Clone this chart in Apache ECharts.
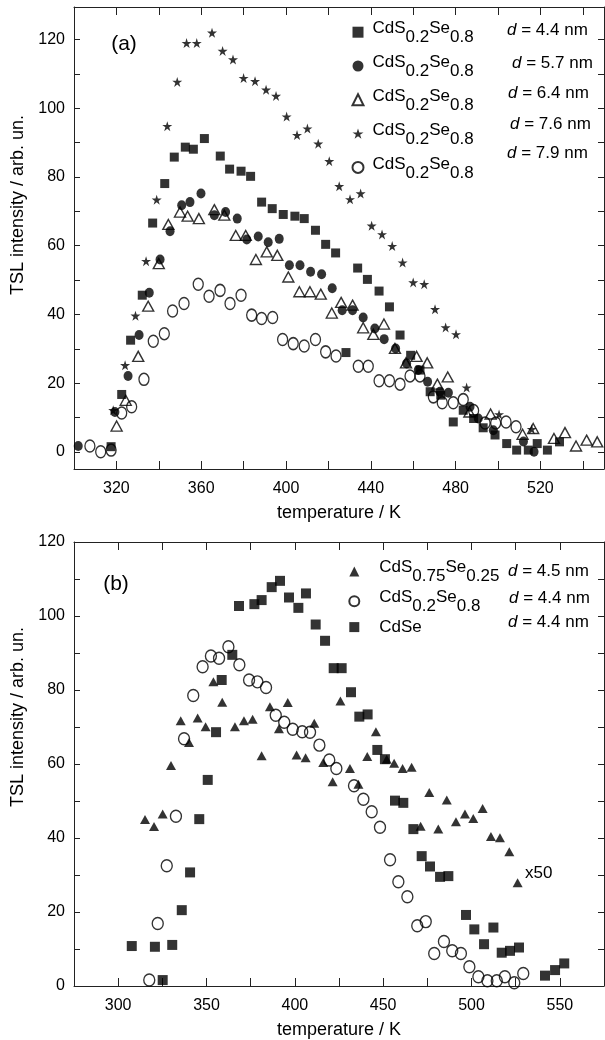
<!DOCTYPE html>
<html><head><meta charset="utf-8">
<script src="https://cdn.jsdelivr.net/npm/echarts@6/dist/echarts.min.js"></script>
<style>html,body{margin:0;padding:0;background:#fff}#c{width:605px;height:1040px}</style>
</head><body><div id="c"></div>
<script>
// ---------- panel (a) data : [temperature K, TSL intensity] ----------
const a44 = [[317.5,1.5],[322.5,16.7],[326.7,32.5],[332.2,45.6],[337.1,66.6],[342.8,78.1],[347.3,85.8],[352.5,88.7],[356.3,88.1],[361.5,91.2],[369,86.1],[373.4,82.3],[378.8,81.7],[383.3,80.2],[388.5,72.7],[393.5,70.8],[398.7,69.1],[404.2,68.6],[408.6,67.9],[413.9,64.5],[418.7,60.4],[423.4,57.9],[428.3,28.9],[433.8,53.5],[438.4,50.2],[443.9,46.8],[448.8,42.2],[453.8,34],[458.8,28.1],[463.2,23.8],[468,17.5],[473,16.5],[478.9,8.7],[483.6,12.1],[488.5,9.7],[493,7],[498.6,4.9],[504.1,2.4],[508.8,0.5],[514.3,0.5],[518.5,2.4],[523.3,0.5],[529,2.9]];
const a57 = [[302,1.7],[319.3,11.6],[325.5,22.1],[330.7,34],[335.5,46.3],[340.6,56],[345.3,64.2],[350.8,71.8],[354.7,72.7],[359.9,75.2],[366.2,68.9],[371.5,69.8],[377,67.9],[381.5,61.8],[386.9,62.7],[391.6,61],[396.8,62],[401.6,54.3],[406.6,54.3],[411.6,52.4],[416.8,51.7],[421.8,47.6],[426.5,41.2],[431.4,41.2],[436.4,39.1],[441.9,35.9],[446.3,32.8],[451.7,30.1],[456.9,25.7],[462.4,23.8],[466.8,20.4],[472.6,17.5],[476.6,17.2],[486.8,13.1],[490.7,9.7],[497.8,6.3],[512,3],[517,0]];
const a64 = [[320.1,7.5],[324.4,15],[330.3,27.8],[335,42.4],[340,54.8],[344.5,66.2],[350,69.8],[353.6,68.6],[358.9,67.9],[366.2,70.5],[370.9,68.9],[376.3,63],[381,63],[385.8,56],[390.9,58.2],[395.9,57.2],[401.1,50.9],[406.3,46.6],[411.3,46.6],[416.4,45.9],[421.6,40.4],[426,43.5],[431.4,42.7],[436.4,36.1],[441.2,34.2],[446.2,37.2],[451.4,30.1],[456.6,25.9],[461.6,27.8],[466.6,25.9],[471.4,19.7],[476.3,21.8],[486.5,11.6],[496.5,11],[511.6,5.1],[516.6,6.8],[526.4,3.9],[531.6,5.6],[536.8,1.7],[541.8,3.4],[546.8,2.9]];
const a76 = [[318.5,12.1],[324.1,25.2],[329,39.6],[334,55.5],[339,73.4],[344,94.8],[348.7,107.7],[353.1,119],[357.9,119],[365.1,122],[370.1,116.7],[375,114.2],[380,108.8],[385.4,107.9],[390.6,105.4],[395.3,103.6],[400.3,97.6],[405.2,92.2],[410.1,94.1],[415.2,89.7],[420.4,84.6],[425.1,77.3],[430.2,73.5],[435.2,75.2],[440.4,65.8],[445.3,63.3],[450.1,59.9],[455,55.1],[460,49.3],[465.2,48.8],[470.3,41.5],[475.3,36.2],[480.2,34.2],[485.2,18.7],[500.5,10.9],[515.9,6.6]];
const a79 = [[307.5,1.7],[312.6,0],[317.5,0.5],[322.5,11.3],[327.2,13.1],[333,21.1],[337.4,32.2],[342.6,34.4],[346.5,41],[351.9,43.2],[358.6,48.8],[363.7,45.3],[368.9,47],[373.6,43.2],[378.8,45.6],[383.8,39.8],[388.5,38.8],[393.7,39.1],[398.4,32.7],[403.4,31.5],[408.6,30.8],[413.9,32.7],[418.7,29.1],[423.6,27.9],[434.1,24.9],[438.8,24.9],[443.9,20.7],[448.8,20.7],[453.8,19.7],[458.5,22.1],[463.2,22.1],[469.5,16],[473.7,14.3],[478.9,14.3],[483.6,15.2],[488.5,12],[493.9,8.4],[498.9,8.4],[503.8,8.7],[508.5,7.3]];

// ---------- panel (b) data ----------
const b075 = [[315.2,45],[320.3,43.1],[325.2,46.5],[329.9,59.6],[335.4,71.7],[340.1,65.8],[345,72.4],[349.5,70.1],[353.9,82.2],[358.9,76.7],[366.1,70.1],[371.2,71.7],[376.1,72.1],[381.2,62.2],[385.9,75.5],[391,69.5],[396,76.6],[401,62.4],[406.1,61.7],[411,71],[416.1,60.4],[421.4,55.2],[425.8,77],[431.2,58.8],[436,54.5],[441,62],[445.9,68.7],[452,61.3],[456.2,60.2],[461,58.8],[466.1,59.1],[471.2,43.2],[476.1,52.3],[481.2,42.4],[486,50.3],[491.2,44.4],[496.3,46.5],[501,45.3],[506.3,48],[511,40.4],[516.1,40.1],[521.4,36.3],[526.1,27.9]];
const b02 = [[317.6,1.6],[322.4,16.9],[327.5,32.5],[332.7,45.9],[337.3,66.8],[342.5,78.5],[347.8,86.3],[352.5,89.2],[357.1,88.6],[362.4,91.7],[368.6,86.8],[374.1,82.7],[378.8,82.2],[383.7,80.7],[389.2,73.2],[394,71.3],[398.8,69.4],[404.2,68.7],[408.6,68.6],[413.9,65.1],[419.5,61.1],[423.5,58.8],[433.5,54.1],[438.8,50.5],[443.5,47.1],[448.2,42.9],[453.9,34.1],[458.6,28.2],[463.7,24.1],[469.3,16.3],[474.1,17.4],[478.9,8.8],[484.4,12],[489.1,9.5],[494,8.8],[498.8,5.2],[503.9,2.5],[509,1.4],[514.3,1.4],[518.9,2.5],[524.2,0.9],[529.3,3.4]];
const bCdSe = [[307.7,10.8],[320.8,10.6],[325.2,1.6],[330.6,11.1],[336,20.5],[340.7,30.7],[345.9,45.1],[350.7,55.7],[355.4,68.6],[358.6,82.7],[364.6,89.5],[368.4,102.7],[377.1,103.2],[381.2,104.3],[386.9,107.8],[391.6,109.5],[396.7,105],[402,102.2],[406.3,106.1],[411.8,97.7],[417.1,93.3],[422,85.9],[426.5,85.9],[431.8,79.4],[436.5,72.8],[441.2,73.4],[446.7,63.8],[451,61.3],[456.7,50.1],[461.4,49.5],[467.1,42.4],[471.8,35.1],[476.5,32.3],[482.2,29.5],[486.9,29.7],[496.9,19.2],[501.6,15.3],[507.1,11.3],[512.4,15.8],[517.1,9],[521.8,9.5],[526.9,10.4],[541.6,2.8],[547.3,4.3],[552.5,6.1]];

// ---------- ticks & labels ----------
const aXTicks = [300,320,340,360,380,400,420,440,460,480,500,520,540];
const aXLabels = [320,360,400,440,480,520];
const aYTicks = [0,10,20,30,40,50,60,70,80,90,100,110,120];
const aYLabels = [0,20,40,60,80,100,120];
const bXTicks = [275,300,325,350,375,400,425,450,475,500,525,550];
const bXLabels = [300,350,400,450,500,550];
const bYTicks = [0,10,20,30,40,50,60,70,80,90,100,110];
const bYLabels = [0,20,40,60,80,100,120];

// legend texts
const aNames = ['CdS0.2Se0.8 (4.4)','CdS0.2Se0.8 (5.7)','CdS0.2Se0.8 (6.4)','CdS0.2Se0.8 (7.6)','CdS0.2Se0.8 (7.9)'];
const aDiam = ['4.4','5.7','6.4','7.6','7.9'];
const bNames = ['CdS0.75Se0.25','CdS0.2Se0.8','CdSe'];
const bSub = [['0.75','0.25'],['0.2','0.8'],null];
const bDiam = ['4.5','4.4','4.4'];

const F = '"Liberation Sans", Arial, Helvetica, sans-serif';
const AXC = '#222';
const STAR = 'path://M50,0L61.8,35.4L100,35.4L69.1,57.3L80.9,92.7L50,70.8L19.1,92.7L30.9,57.3L0,35.4L38.2,35.4Z';
const OPEN = {color:'rgba(255,255,255,0)', borderColor:'#000', borderWidth:1.4};
const FILL = {color:'#000'};

function xAx(gi, pos, min, max, ticks, labels) {
  const main = pos === 'bottom';
  return {
    gridIndex: gi, type: 'value', position: pos, min: min, max: max,
    axisLine: {show: true, onZero: false, lineStyle: {color: AXC, width: 1}},
    axisTick: {show: true, inside: true, length: 8, customValues: ticks, lineStyle: {color: AXC, width: 1}},
    axisLabel: {show: main, customValues: labels, margin: 12, fontSize: 16, fontFamily: F, color: '#000'},
    splitLine: {show: false},
    name: main ? 'temperature / K' : '', nameLocation: 'middle', nameGap: 35,
    nameTextStyle: {fontSize: 18, fontFamily: F, color: '#000'}
  };
}
function yAx(gi, pos, min, max, ticks, labels, shift) {
  const main = pos === 'left';
  return {
    gridIndex: gi, type: 'value', position: pos, min: min, max: max,
    axisLine: {show: true, onZero: false, lineStyle: {color: AXC, width: 1}},
    axisTick: {show: true, inside: true, length: 6, customValues: ticks, lineStyle: {color: AXC, width: 1}},
    axisLabel: {show: main, customValues: labels, margin: 9, fontSize: 16, fontFamily: F, color: '#000'},
    splitLine: {show: false},
    name: main ? 'TSL intensity / arb. un.' : '', nameLocation: 'middle', nameGap: 40,
    nameTextStyle: {fontSize: 18, fontFamily: F, color: '#000', padding: [0, 0, 0, shift || 0]}
  };
}

function sc(name, data, xi, yi, symbol, size, style, z) {
  return {type: 'scatter', name: name, data: data, xAxisIndex: xi, yAxisIndex: yi,
    symbol: symbol, symbolSize: size, itemStyle: style, silent: true, z: z || 2,
    emphasis: {disabled: true}, animation: false};
}

const richA = {
  m0: {fontSize: 17, fontFamily: F, color: '#000', height: 16, lineHeight: 16, verticalAlign: 'top', padding: [0,0,0,4]},
  m:  {fontSize: 17, fontFamily: F, color: '#000', height: 16, lineHeight: 16, verticalAlign: 'top'},
  s:  {fontSize: 17, fontFamily: F, color: '#000', height: 12, lineHeight: 23, verticalAlign: 'bottom'}
};
const richB = {
  m0: {fontSize: 17, fontFamily: F, color: '#000', height: 14, lineHeight: 14, verticalAlign: 'top', padding: [0,0,0,15]},
  m:  {fontSize: 17, fontFamily: F, color: '#000', height: 14, lineHeight: 14, verticalAlign: 'top'},
  s:  {fontSize: 17, fontFamily: F, color: '#000', height: 12, lineHeight: 22, verticalAlign: 'bottom'},
  c:  {fontSize: 17, fontFamily: F, color: '#000', height: 14, lineHeight: 22, verticalAlign: 'middle', padding: [0,0,0,15]}
};
function formula(sx, sy) { return '{m0|CdS}{s|' + sx + '}{m|Se}{s|' + sy + '}'; }

const dRich = {i: {fontSize: 17, fontFamily: F, fontStyle: 'italic', fill: '#000'}};
function dText(x, y, val) {
  return {type: 'text', x: x, y: y, silent: true,
    style: {text: '{i|d} = ' + val + ' nm', rich: dRich, fontSize: 17, fontFamily: F, fill: '#000', align: 'left', verticalAlign: 'middle'}};
}
const aDx = [507, 512, 508, 510, 507];
const aDy = [30, 63, 93, 124, 153];
const bDx = [508, 509, 508];
const bDy = [571, 598, 622];

const graphics = [
  {type: 'text', x: 124, y: 44, silent: true, style: {text: '(a)', fontSize: 21, fontFamily: F, fill: '#000', align: 'center', verticalAlign: 'middle'}},
  {type: 'text', x: 116, y: 584, silent: true, style: {text: '(b)', fontSize: 21, fontFamily: F, fill: '#000', align: 'center', verticalAlign: 'middle'}},
  {type: 'text', x: 525, y: 873, silent: true, style: {text: 'x50', fontSize: 17, fontFamily: F, fill: '#000', align: 'left', verticalAlign: 'middle'}}
];
aDiam.forEach((v, i) => graphics.push(dText(aDx[i], aDy[i], v)));
bDiam.forEach((v, i) => graphics.push(dText(bDx[i], bDy[i], v)));

const option = {
  animation: false,
  backgroundColor: '#fff',
  textStyle: {fontFamily: F},
  grid: [
    {left: 74, right: 1, top: 7, height: 462, containLabel: false},
    {left: 74, right: 1, top: 542, height: 444, containLabel: false}
  ],
  xAxis: [
    xAx(0, 'bottom', 300, 550, aXTicks, aXLabels),
    xAx(0, 'top', 300, 550, aXTicks, aXLabels),
    xAx(1, 'bottom', 275, 575, bXTicks, bXLabels),
    xAx(1, 'top', 275, 575, bXTicks, bXLabels)
  ],
  yAxis: [
    yAx(0, 'left', -5, 129.5, aYTicks, aYLabels, 66),
    yAx(0, 'right', -5, 129.5, aYTicks, aYLabels),
    yAx(1, 'left', 0, 120, bYTicks, bYLabels, 94),
    yAx(1, 'right', 0, 120, bYTicks, bYLabels)
  ],
  legend: [
    {data: aNames, orient: 'vertical', left: 351.5, top: 20.2, padding: 0, itemWidth: 11, itemHeight: 11, itemGap: 7.8,
     selectedMode: false, formatter: () => formula('0.2', '0.8'), textStyle: {fontSize: 17, fontFamily: F, color: '#000', rich: richA}},
    {data: bNames, orient: 'vertical', left: 348.3, top: 559, padding: 0, itemWidth: 10, itemHeight: 10, itemGap: 3.8,
     selectedMode: false,
     formatter: name => { const i = bNames.indexOf(name); return bSub[i] ? formula(bSub[i][0], bSub[i][1]) : '{c|' + name + '}'; },
     textStyle: {fontSize: 17, fontFamily: F, color: '#000', rich: richB}}
  ],
  series: [
    sc(aNames[0], a44, 0, 0, 'rect', 9, FILL, 3),
    sc(aNames[1], a57, 0, 0, 'circle', [9, 10], FILL, 3),
    sc(aNames[2], a64, 0, 0, 'triangle', [11, 10], OPEN, 4),
    sc(aNames[3], a76, 0, 0, STAR, 10, FILL, 3),
    sc(aNames[4], a79, 0, 0, 'circle', [10, 12], OPEN, 4),
    sc(bNames[0], b075, 2, 2, 'triangle', [10, 9], FILL, 3),
    sc(bNames[1], b02, 2, 2, 'circle', [11, 12], OPEN, 4),
    sc(bNames[2], bCdSe, 2, 2, 'rect', 10, FILL, 3)
  ],
  graphic: graphics
};
const chart = echarts.init(document.getElementById('c'));
chart.setOption(option);
</script></body></html>
